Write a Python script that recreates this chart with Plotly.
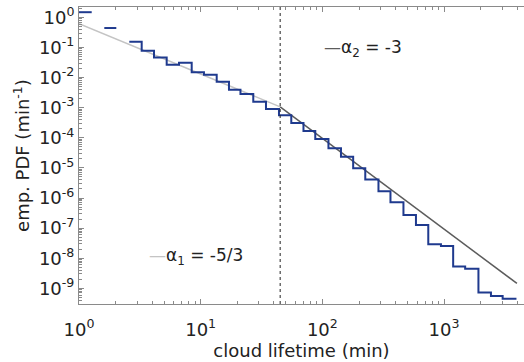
import plotly.graph_objects as go

# ---- data ----
bin_edges = [1.0, 1.272, 1.614, 2.026, 2.59, 3.275, 4.134, 5.256, 6.632, 8.437,
             10.64, 13.54, 17.08, 21.23, 27.05, 34.40, 44.00, 55.53, 69.94, 87.43,
             112.2, 142.2, 179.1, 225.2, 289.1, 362.8, 463.8, 587.6, 741.8, 943.0,
             1188.0, 1491.0, 1917.0, 2429.0, 3031.0, 3936.0]
emp_pdf = [1.49, None, 0.444, None, 0.1555, 0.0781, 0.0468, 0.0267, 0.0311, 0.01506,
           0.01242, 0.00727, 0.00394, 0.00284, 0.001573, 0.000906, 0.00056, 0.000308,
           0.000168, 9.1e-5, 4.54e-5, 2.33e-5, 9.81e-6, 4.1e-6, 1.69e-6, 7.27e-7,
           2.75e-7, 1.26e-7, 2.91e-8, 2.56e-8, 5.32e-9, 4.47e-9, 7.26e-10, 5.56e-10,
           4.49e-10]

fit1_x = [1.0, 45.0]
fit1_y = [0.62, 0.00107]
fit2_x = [45.0, 3970.0]
fit2_y = [0.00107, 1.45e-9]

break_x = 45.0

x_tickvals = [1, 10, 100, 1000]
x_ticktext = ["10<sup>0</sup>", "10<sup>1</sup>", "10<sup>2</sup>", "10<sup>3</sup>"]
y_tickvals = [1, 1e-1, 1e-2, 1e-3, 1e-4, 1e-5, 1e-6, 1e-7, 1e-8, 1e-9]
y_ticktext = ["10<sup>0</sup>", "10<sup>-1</sup>", "10<sup>-2</sup>", "10<sup>-3</sup>",
              "10<sup>-4</sup>", "10<sup>-5</sup>", "10<sup>-6</sup>", "10<sup>-7</sup>",
              "10<sup>-8</sup>", "10<sup>-9</sup>"]

x_range_log = [0.0, 3.657]
y_range_log = [-9.521, 0.346]

# minor tick positions (2..9 in each decade)
x_minor = [m * 10 ** k for k in range(0, 4) for m in range(2, 10)]
y_minor = [m * 10.0 ** k for k in range(-10, 1) for m in range(2, 10)]

# ---- build staircase path from bins ----
xs, ys = [], []
for i, v in enumerate(emp_pdf):
    if v is None:
        xs.append(None)
        ys.append(None)
        continue
    xs += [bin_edges[i], bin_edges[i + 1]]
    ys += [v, v]

FONT = "DejaVu Sans"
TXT = "#222222"
AX = "#8a8a8a"
fig = go.Figure()

fig.add_trace(go.Scatter(x=fit1_x, y=fit1_y, mode="lines",
                         line=dict(color="#c4c4c4", width=1.5), showlegend=False))
fig.add_trace(go.Scatter(x=fit2_x, y=fit2_y, mode="lines",
                         line=dict(color="#5c5c5c", width=1.5), showlegend=False))
fig.add_trace(go.Scatter(x=xs, y=ys, mode="lines", connectgaps=False,
                         line=dict(color="#1f3a8e", width=2), showlegend=False))
fig.add_trace(go.Scatter(x=[break_x, break_x],
                         y=[10 ** y_range_log[0], 10 ** y_range_log[1]],
                         mode="lines", line=dict(color="#222222", width=1, dash="dot"),
                         showlegend=False))

fig.add_annotation(x=2.0, y=-1.03, xref="x", yref="y", xanchor="left", yanchor="middle",
                   showarrow=False,
                   text="<span style='color:#5c5c5c'>—</span>α<sub>2</sub> = -3",
                   font=dict(family=FONT, size=17, color=TXT))
fig.add_annotation(x=0.555, y=-7.95, xref="x", yref="y", xanchor="left", yanchor="middle",
                   showarrow=False,
                   text="<span style='color:#c4c4c4'>—</span>α<sub>1</sub> = -5/3",
                   font=dict(family=FONT, size=17, color=TXT))

axis_common = dict(showline=True, linecolor=AX, linewidth=1,
                   ticks="inside", tickcolor=AX, ticklen=5, showgrid=False,
                   zeroline=False, tickfont=dict(family=FONT, size=18, color=TXT))

fig.update_xaxes(type="log", range=x_range_log, tickmode="array",
                 tickvals=x_tickvals, ticktext=x_ticktext, mirror="ticks",
                 ticklabelstandoff=9,
                 minor=dict(tickmode="array", tickvals=x_minor, ticks="inside",
                            ticklen=3, tickcolor=AX, showgrid=False),
                 title=dict(text="cloud lifetime (min)", standoff=4,
                            font=dict(family=FONT, size=18, color=TXT)),
                 **axis_common)
fig.update_yaxes(type="log", range=y_range_log, tickmode="array",
                 tickvals=y_tickvals, ticktext=y_ticktext,
                 minor=dict(tickmode="array", tickvals=y_minor, ticks="inside",
                            ticklen=3, tickcolor=AX, showgrid=False),
                 title=dict(text="emp. PDF (min<sup>-1</sup>)", standoff=4,
                            font=dict(family=FONT, size=18, color=TXT)),
                 **axis_common)

fig.update_layout(width=524, height=362, margin=dict(l=79, r=0, t=7, b=58),
                  plot_bgcolor="white", paper_bgcolor="white",
                  font=dict(family=FONT, color=TXT))

fig.write_html("out.html", config={"displayModeBar": False},
               post_script="document.body.style.margin='0';document.body.style.overflow='hidden';")
